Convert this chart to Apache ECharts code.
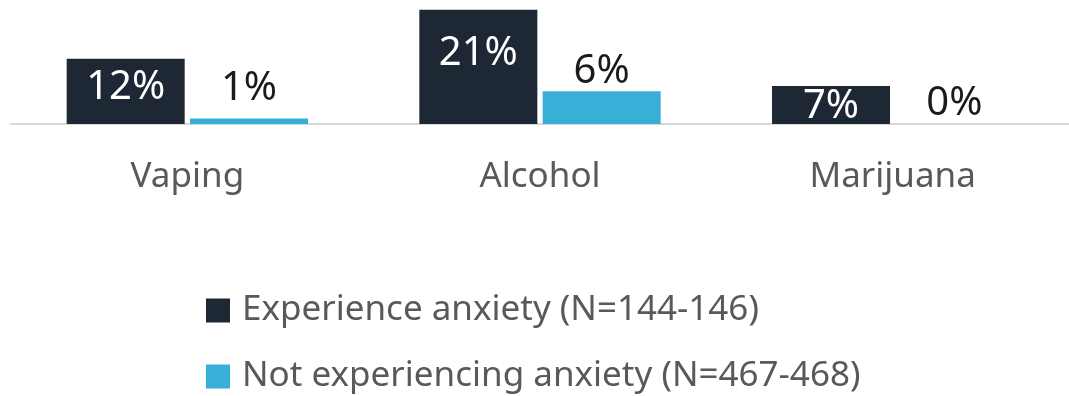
<!DOCTYPE html>
<html>
<head>
<meta charset="utf-8">
<script src="https://cdn.jsdelivr.net/npm/echarts@6/dist/echarts.min.js"></script>
<style>
  html, body { margin: 0; padding: 0; background: #ffffff; }
  #chart { width: 1069px; height: 396px; }
</style>
</head>
<body>
<div id="chart"></div>
<script>
// Substance use by anxiety status (percent of students)
const categories = ['Vaping', 'Alcohol', 'Marijuana'];
const seriesNames = ['Experience anxiety (N=144-146)', 'Not experiencing anxiety (N=467-468)'];
const anxietyValues = [12, 21, 7];
const noAnxietyValues = [1, 6, 0];

// Styling
const DARK = '#1e2734';
const BLUE = '#37afd6';
const GRAY_TEXT = '#595959';
const FONT = '"Noto Sans", "Open Sans", sans-serif';

// Per-bar vertical nudges for the value labels (px)
const darkLabelShift = [9, 24, 1];
const blueLabelShift = [-10, 0, 0];

const fmt = v => v + '%';

const chart = echarts.init(document.getElementById('chart'), null, { renderer: 'canvas' });

chart.setOption({
  animation: false,
  backgroundColor: '#ffffff',
  grid: { left: 11, right: -11, top: 0, bottom: 272, containLabel: false },
  xAxis: {
    type: 'category',
    data: categories,
    axisLine: { show: true, lineStyle: { color: '#d9d9d9', width: 2 } },
    axisTick: { show: false },
    axisLabel: {
      color: GRAY_TEXT,
      fontFamily: FONT,
      fontSize: 35,
      margin: 36
    },
    splitLine: { show: false }
  },
  yAxis: {
    type: 'value',
    min: 0,
    max: 22.8,
    show: false,
    splitLine: { show: false }
  },
  legend: {
    orient: 'vertical',
    left: 206,
    top: 293,
    padding: 0,
    itemWidth: 24,
    itemHeight: 24,
    itemGap: 31,
    icon: 'rect',
    itemStyle: { borderWidth: 0 },
    textStyle: {
      color: GRAY_TEXT,
      fontFamily: FONT,
      fontSize: 35,
      padding: [0, 0, 0, 7]
    },
    data: seriesNames
  },
  series: [
    {
      name: seriesNames[0],
      type: 'bar',
      barWidth: 118,
      barGap: '4.5%',
      itemStyle: { color: DARK },
      data: anxietyValues.map((v, i) => ({
        value: v,
        label: {
          show: true,
          position: 'insideTop',
          distance: 0,
          offset: [0, darkLabelShift[i]],
          formatter: p => fmt(p.value),
          color: '#ffffff',
          fontFamily: FONT,
          fontSize: 40
        }
      }))
    },
    {
      name: seriesNames[1],
      type: 'bar',
      barWidth: 118,
      itemStyle: { color: BLUE },
      data: noAnxietyValues.map((v, i) => ({
        value: v,
        label: {
          show: true,
          position: 'top',
          distance: 0,
          offset: [0, blueLabelShift[i]],
          formatter: p => fmt(p.value),
          color: '#1a1a1a',
          fontFamily: FONT,
          fontSize: 40
        }
      }))
    }
  ]
});
</script>
</body>
</html>
